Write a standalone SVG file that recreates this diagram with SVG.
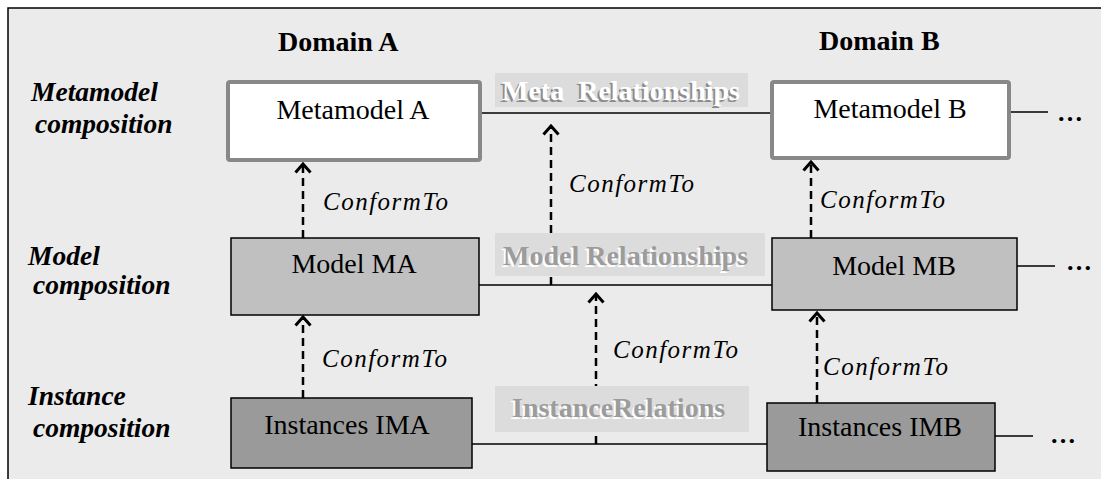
<svg xmlns="http://www.w3.org/2000/svg" width="1101" height="479" viewBox="0 0 1101 479">
<defs>
<marker id="ah" viewBox="0 0 12 18" refX="10" refY="9" markerWidth="12" markerHeight="18" markerUnits="userSpaceOnUse" orient="auto">
<path d="M1.5,1.5 L10,9 L1.5,16.5" fill="none" stroke="#000" stroke-width="3"/>
</marker>
</defs>
<style>
.row{font-family:'Liberation Serif',serif;font-weight:bold;font-style:italic;font-size:27.5px;fill:#000}
.dom{font-family:'Liberation Serif',serif;font-weight:bold;font-size:28px;fill:#000}
.lbl{font-family:'Liberation Serif',serif;font-size:28px;fill:#000;text-anchor:middle}
.ct{font-family:'Liberation Serif',serif;font-style:italic;font-size:25px;letter-spacing:1.5px;fill:#000}
.rel{font-family:'Liberation Serif',serif;font-weight:bold;font-size:28px}
.dots{font-family:'Liberation Serif',serif;font-weight:bold;font-size:26px;fill:#000}
.meta{fill:#fff;stroke:#888;stroke-width:4}
.model{fill:#c0c0c0;stroke:#000;stroke-width:1.5}
.inst{fill:#9a9a9a;stroke:#000;stroke-width:1.5}
.ln{stroke:#000;stroke-width:1.5;fill:none}
.dash{stroke:#000;stroke-width:2.5;stroke-dasharray:8,5;fill:none;marker-end:url(#ah)}
.relbox{fill:#dcdcdc}
.sh{fill:#8c8c8c}
.wh{fill:#ffffff}
.gr{fill:#9c9c9c}
</style>
<rect x="8" y="8" width="1100" height="480" fill="#ebebeb" stroke="#000" stroke-width="1.5"/>

<g id="headers">
<text class="dom" x="278" y="51">Domain A</text>
<text class="dom" x="819" y="50">Domain B</text>
<text class="row" x="31" y="101">Metamodel</text>
<text class="row" x="35" y="133">composition</text>
<text class="row" x="28" y="265">Model</text>
<text class="row" x="33" y="294">composition</text>
<text class="row" x="28" y="405">Instance</text>
<text class="row" x="33" y="437">composition</text>
</g>

<g id="connectors">
<line class="ln" x1="482" y1="113" x2="770" y2="113"/>
<line class="ln" x1="1011" y1="112" x2="1048" y2="112"/>
<line class="ln" x1="479" y1="285" x2="772" y2="285"/>
<line class="ln" x1="1017" y1="266" x2="1055" y2="266"/>
<line class="ln" x1="472" y1="444" x2="767" y2="444"/>
<line class="ln" x1="995" y1="436" x2="1033" y2="436"/>
<line class="dash" x1="303" y1="238" x2="303" y2="164"/>
<line class="dash" x1="303" y1="398" x2="303" y2="317"/>
<line class="dash" x1="811" y1="238" x2="811" y2="162"/>
<line class="dash" x1="817" y1="403" x2="817" y2="313"/>
<line class="dash" x1="551" y1="285" x2="551" y2="126"/>
<line class="dash" x1="596" y1="444" x2="596" y2="294"/>
<text class="ct" x="323" y="210">ConformTo</text>
<text class="ct" x="569" y="192">ConformTo</text>
<text class="ct" x="820" y="208">ConformTo</text>
<text class="ct" x="322" y="367">ConformTo</text>
<text class="ct" x="613" y="358">ConformTo</text>
<text class="ct" x="823" y="375">ConformTo</text>
<text class="dots" x="1057" y="121">…</text>
<text class="dots" x="1066" y="270">…</text>
<text class="dots" x="1050" y="443">…</text>
</g>

<g id="meta-relationships">
<rect class="relbox" x="495" y="73" width="253" height="34"/>
<text class="rel sh" x="500" y="101.5" xml:space="preserve">Meta  Relationships</text>
<text class="rel wh" x="502" y="100" xml:space="preserve">Meta  Relationships</text>
</g>

<g id="model-relationships">
<rect class="relbox" x="495" y="233" width="270" height="43"/>
<text class="rel wh" x="501" y="266.5">Model Relationships</text>
<text class="rel gr" x="503" y="265">Model Relationships</text>
</g>

<g id="instance-relations">
<rect class="relbox" x="495" y="386" width="254" height="46"/>
<text class="rel wh" x="510" y="418.5">InstanceRelations</text>
<text class="rel gr" x="512" y="417">InstanceRelations</text>
</g>

<g id="metamodel-a">
<rect class="meta" x="228" y="82" width="252" height="78" rx="2"/>
<text class="lbl" x="353" y="119">Metamodel A</text>
</g>
<g id="metamodel-b">
<rect class="meta" x="772" y="82" width="237" height="76" rx="2"/>
<text class="lbl" x="890" y="118">Metamodel B</text>
</g>
<g id="model-ma">
<rect class="model" x="231" y="238" width="248" height="77"/>
<text class="lbl" x="354" y="273">Model MA</text>
</g>
<g id="model-mb">
<rect class="model" x="772" y="238" width="245" height="72"/>
<text class="lbl" x="894" y="275">Model MB</text>
</g>
<g id="instances-ima">
<rect class="inst" x="231" y="398" width="241" height="70"/>
<text class="lbl" x="347" y="434">Instances IMA</text>
</g>
<g id="instances-imb">
<rect class="inst" x="767" y="403" width="228" height="68"/>
<text class="lbl" x="880" y="436">Instances IMB</text>
</g>
</svg>
